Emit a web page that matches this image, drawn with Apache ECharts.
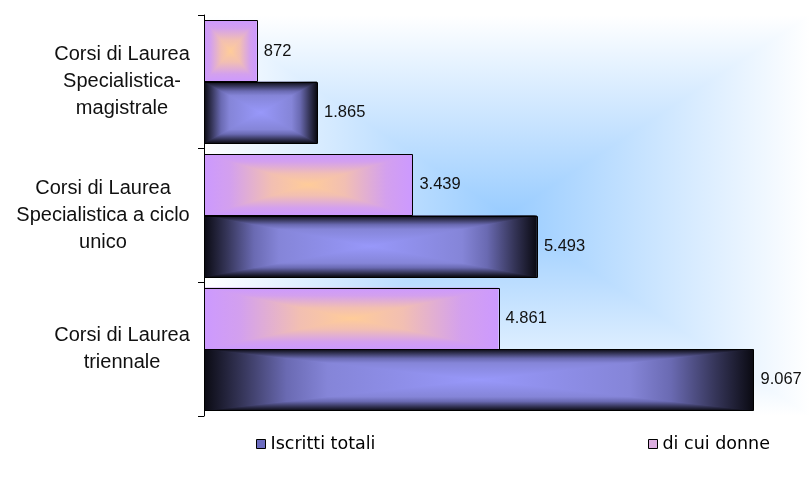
<!DOCTYPE html>
<html>
<head>
<meta charset="utf-8">
<title>Iscritti per tipo di corso</title>
<script src="https://cdn.jsdelivr.net/npm/echarts@6/dist/echarts.min.js"></script>
<style>
  html, body { margin: 0; padding: 0; background: #ffffff; }
  #chart { width: 810px; height: 482px; }
</style>
</head>
<body>
<div id="chart"></div>
<script>
// Course types, listed top to bottom
const categories = [
  'Corsi di Laurea\nSpecialistica-\nmagistrale',
  'Corsi di Laurea\nSpecialistica a ciclo\nunico',
  'Corsi di Laurea\ntriennale'
];
// Enrolled students, total and women
const totalValues = [1865, 5493, 9067];
const womenValues = [872, 3439, 4861];
const seriesNames = ['Iscritti totali', 'di cui donne'];

const LABEL_FONT = '"Liberation Sans", Arial, sans-serif';
const CAT_FONT_SIZE = 20;

// Italian thousands separator
function fmt(n) {
  return String(n).replace(/\B(?=(\d{3})+(?!\d))/g, '.');
}

// Edge-to-centre colour ramps for the "from centre" fills
const darkStops = [
  { offset: 0, color: '#0a0a12' },
  { offset: 0.14, color: '#36365a' },
  { offset: 0.3, color: '#6a6ab2' },
  { offset: 0.45, color: '#8585d8' },
  { offset: 1, color: '#9898fa' }
];
const lilacStops = [
  { offset: 0, color: '#cc99ff' },
  { offset: 0.25, color: '#d3a0ee' },
  { offset: 0.65, color: '#f2bfb2' },
  { offset: 1, color: '#ffcc99' }
];
const skyStops = [
  { offset: 0, color: '#ffffff' },
  { offset: 1, color: '#99ccff' }
];

function mirror(stops) {
  const left = stops.map(s => ({ offset: s.offset / 2, color: s.color }));
  const right = stops.slice().reverse().map(s => ({ offset: 1 - s.offset / 2, color: s.color }));
  return left.concat(right);
}

// Rectangular gradient: horizontal ramp underneath, top and bottom wedges on top
function rectGradient(x, y, w, h, stops) {
  const cx = x + w / 2, cy = y + h / 2;
  const G = echarts.graphic.LinearGradient;
  return [
    { type: 'rect', shape: { x: x, y: y, width: w, height: h },
      style: { fill: new G(0, 0, 1, 0, mirror(stops)) } },
    { type: 'polygon', shape: { points: [[x, y], [x + w, y], [cx, cy]] },
      style: { fill: new G(0, 0, 0, 1, stops) } },
    { type: 'polygon', shape: { points: [[x, y + h], [x + w, y + h], [cx, cy]] },
      style: { fill: new G(0, 1, 0, 0, stops) } }
  ];
}

function makeBar(slot, stops) {
  return function (params, api) {
    const v = api.value(0);
    const c = api.value(1);
    const p0 = api.coord([0, c]);
    const p1 = api.coord([v, c]);
    const band = api.size([0, 1])[1];
    const h = band * 0.46;
    const x = p0[0];
    const w = p1[0] - p0[0];
    const y = slot === 0 ? p0[1] - h : p0[1];
    const children = rectGradient(x, y, w, h, stops);
    children.push({
      type: 'rect',
      shape: { x: Math.round(x) + 0.5, y: Math.round(y) + 0.5, width: Math.round(w), height: Math.round(h) },
      style: { fill: null, stroke: '#000000', lineWidth: 1 }
    });
    children.push({
      type: 'text',
      style: {
        text: fmt(v), x: x + w + 7, y: y + h / 2,
        align: 'left', verticalAlign: 'middle',
        fontSize: 16.5, fontFamily: LABEL_FONT, fill: '#111111'
      }
    });
    return { type: 'group', children: children };
  };
}

// Measure each category label so its lines can be centred inside a right-aligned block
const measureCtx = document.createElement('canvas').getContext('2d');
measureCtx.font = CAT_FONT_SIZE + 'px ' + LABEL_FONT;
const rich = {};
categories.forEach((cat, i) => {
  const w = Math.max.apply(null, cat.split('\n').map(l => measureCtx.measureText(l).width));
  rich['c' + i] = {
    width: Math.ceil(w), align: 'center',
    fontSize: CAT_FONT_SIZE, fontFamily: LABEL_FONT, lineHeight: 27, color: '#111111'
  };
});

const chart = echarts.init(document.getElementById('chart'), null, { renderer: 'canvas' });

const legendText = { fontFamily: '"DejaVu Sans", Verdana, sans-serif', fontSize: 17.5, color: '#000000' };

chart.setOption({
  animation: false,
  backgroundColor: '#ffffff',
  grid: { left: 204, top: 15, width: 615, height: 401 },
  xAxis: {
    type: 'value', min: 0, max: 10000, show: false
  },
  yAxis: {
    type: 'category',
    inverse: true,
    data: categories,
    axisLine: { show: true, lineStyle: { color: '#000000', width: 1 } },
    axisTick: { show: true, length: 6, lineStyle: { color: '#000000' } },
    axisLabel: {
      margin: 14,
      formatter: function (value, index) {
        return value.split('\n').map(l => '{c' + index + '|' + l + '}').join('\n');
      },
      rich: rich
    },
    splitLine: { show: false },
    z: 5
  },
  legend: [
    {
      left: 256, top: 435, padding: 0, itemWidth: 9, itemHeight: 9, itemGap: 5,
      textStyle: legendText,
      data: [{ name: seriesNames[0], icon: 'rect',
        itemStyle: { color: '#6c6cc0', borderColor: '#000000', borderWidth: 1 } }]
    },
    {
      left: 648, top: 435, padding: 0, itemWidth: 9, itemHeight: 9, itemGap: 5,
      textStyle: legendText,
      data: [{ name: seriesNames[1], icon: 'rect',
        itemStyle: { color: '#dcaee0', borderColor: '#000000', borderWidth: 1 } }]
    }
  ],
  series: [
    {
      // plot-area glow
      type: 'custom',
      name: 'sfondo',
      silent: true,
      z: -10,
      data: [[0, 0]],
      encode: { x: 0, y: 1 },
      renderItem: function (params) {
        const cs = params.coordSys;
        return { type: 'group', children: rectGradient(cs.x, cs.y, cs.width, cs.height, skyStops) };
      }
    },
    {
      type: 'custom',
      name: seriesNames[0],
      z: 3,
      itemStyle: { color: '#6c6cc0' },
      data: totalValues.map((v, i) => [v, i]),
      encode: { x: 0, y: 1 },
      renderItem: makeBar(1, darkStops)
    },
    {
      type: 'custom',
      name: seriesNames[1],
      z: 3,
      itemStyle: { color: '#dcaee0' },
      data: womenValues.map((v, i) => [v, i]),
      encode: { x: 0, y: 1 },
      renderItem: makeBar(0, lilacStops)
    }
  ]
});
</script>
</body>
</html>
